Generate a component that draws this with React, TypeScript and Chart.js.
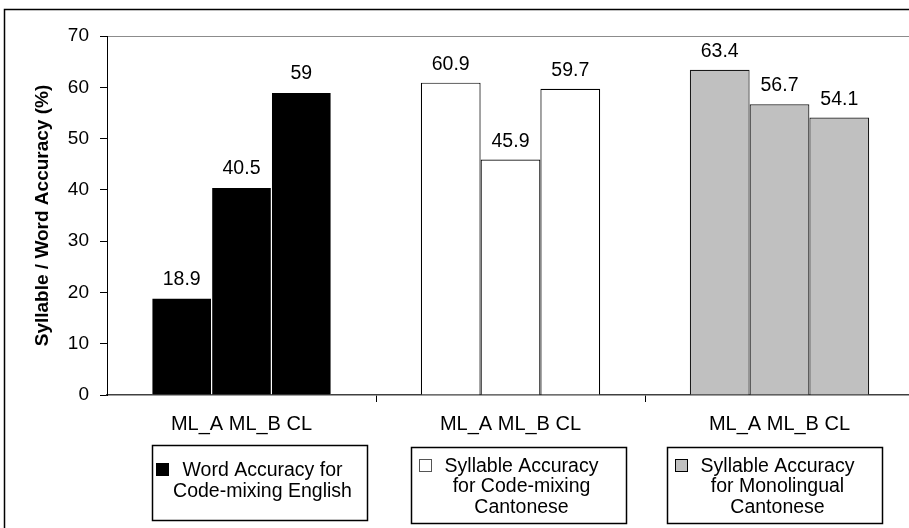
import React, { useEffect, useRef } from "react";
import { Chart, registerables } from "chart.js";

Chart.register(...registerables);

// ---- data ----
const categories = ["ML_A ML_B CL", "ML_A ML_B CL", "ML_A ML_B CL"];
const seriesNames = ["ML_A", "ML_B", "CL"];
const mlA = [18.9, 60.9, 63.4];
const mlB = [40.5, 45.9, 56.7];
const cl = [59, 59.7, 54.1];
const groupColors = ["#000000", "#ffffff", "#c0c0c0"];
const legendTexts = [
  ["Word Accuracy for", "Code-mixing English"],
  ["Syllable Accuracy", "for Code-mixing", "Cantonese"],
  ["Syllable Accuracy", "for Monolingual", "Cantonese"],
];
const yTickValues = [0, 10, 20, 30, 40, 50, 60, 70];
const yAxisTitle = "Syllable / Word Accuracy (%)";

const seriesData = [mlA, mlB, cl];

const FONT = "'Liberation Sans', Arial, Helvetica, sans-serif";
const legendBoxes = [
  { x: 152, y: 445, w: 215, h: 75, dy: -3 },
  { x: 411, y: 447, w: 215, h: 76, dy: 0 },
  { x: 667, y: 447, w: 215, h: 76, dy: 0 },
];

const valueLabelsPlugin = {
  id: "valueLabels",
  afterDatasetsDraw(chart: any) {
    const ctx = chart.ctx;
    ctx.save();
    ctx.font = `19.5px ${FONT}`;
    ctx.fillStyle = "#000";
    ctx.textAlign = "center";
    ctx.textBaseline = "alphabetic";
    chart.data.datasets.forEach((ds: any, di: number) => {
      const meta = chart.getDatasetMeta(di);
      meta.data.forEach((el: any, i: number) => {
        ctx.fillText(String(ds.data[i]), el.x, el.y - 13);
      });
    });
    ctx.restore();
  },
};

const decorPlugin = {
  id: "decor",
  afterDraw(chart: any) {
    const ctx = chart.ctx;
    ctx.save();
    // outer frame
    ctx.strokeStyle = "#000";
    ctx.lineWidth = 1.5;
    ctx.strokeRect(4.5, 9.5, 2000, 2000);
    // group legends
    ctx.font = `19.5px ${FONT}`;
    ctx.textBaseline = "alphabetic";
    ctx.textAlign = "center";
    const lh = 20.5;
    const capH = 14;
    legendTexts.forEach((lines, g) => {
      const b = legendBoxes[g];
      ctx.fillStyle = "#fff";
      ctx.fillRect(b.x, b.y, b.w, b.h);
      ctx.strokeStyle = "#000";
      ctx.lineWidth = 1.5;
      ctx.strokeRect(b.x + 0.5, b.y + 0.5, b.w, b.h);
      const cx = b.x + b.w / 2 + 3;
      const cy = b.y + b.h / 2 + b.dy;
      const firstBaseline = cy - ((lines.length - 1) * lh) / 2 + capH / 2;
      ctx.fillStyle = "#000";
      lines.forEach((t, li) => {
        ctx.fillText(t, cx, firstBaseline + li * lh);
      });
      const w0 = ctx.measureText(lines[0]).width;
      const sqX = Math.round(cx - w0 / 2 - 26) + 0.5;
      const sqY = Math.round(firstBaseline - 13) + 0.5;
      ctx.fillStyle = groupColors[g];
      ctx.fillRect(sqX, sqY, 12, 12);
      ctx.strokeStyle = g === 1 ? "#555" : "#000";
      ctx.lineWidth = 1;
      ctx.strokeRect(sqX, sqY, 12, 12);
    });
    ctx.restore();
  },
};

export default function App() {
  const ref = useRef<HTMLCanvasElement | null>(null);

  useEffect(() => {
    if (!ref.current) return;
    const chart = new Chart(ref.current, {
      type: "bar",
      data: {
        labels: categories,
        datasets: seriesNames.map((name, si) => ({
          label: name,
          data: seriesData[si],
          backgroundColor: groupColors,
          borderColor: ["#ffffff", "#000000", "#1a1a1a"],
          borderWidth: [0.6, 1.2, 1.2],
          barPercentage: 1,
          categoryPercentage: 2 / 3,
        })),
      },
      options: {
        responsive: false,
        animation: false,
        devicePixelRatio: 1,
        layout: { padding: { top: 36, right: 6, left: 0, bottom: 0 } },
        plugins: {
          legend: { display: false },
          tooltip: { enabled: false },
        },
        scales: {
          x: {
            type: "category",
            offset: true,
            grid: {
              offset: true,
              drawOnChartArea: false,
              drawTicks: true,
              tickLength: 7,
              lineWidth: 1,
              color: (c: any) =>
                c.type === "tick" && (c.index === 1 || c.index === 2) ? "#000" : "rgba(0,0,0,0)",
            },
            border: { display: true, color: "#404040", width: 1.5 },
            ticks: {
              color: "#000",
              font: { family: FONT, size: 20 },
              padding: 10,
              maxRotation: 0,
              autoSkip: false,
            },
            afterFit: (s: any) => {
              s.height = 133;
            },
          },
          y: {
            min: 0,
            max: 70,
            afterBuildTicks: (s: any) => {
              s.ticks = yTickValues.map((v) => ({ value: v }));
            },
            grid: {
              drawOnChartArea: true,
              drawTicks: true,
              tickLength: 7,
              lineWidth: 1,
              color: (c: any) => (c.tick && c.tick.value === 70 ? "#8c8c8c" : "rgba(0,0,0,0)"),
              tickColor: "#000",
            },
            border: { display: true, color: "#000", width: 1 },
            ticks: {
              color: "#000",
              font: { family: FONT, size: 19 },
              padding: 11,
            },
            title: {
              display: true,
              text: yAxisTitle,
              color: "#000",
              font: { family: FONT, size: 19, weight: "bold" },
              padding: { top: 31, bottom: 0 },
            },
            afterFit: (s: any) => {
              s.width = 107;
            },
          },
        },
      },
      plugins: [valueLabelsPlugin, decorPlugin],
    } as any);
    return () => chart.destroy();
  }, []);

  return (
    <div
      style={{
        position: "fixed",
        left: 0,
        top: 0,
        width: 909,
        height: 528,
        overflow: "hidden",
        background: "#fff",
      }}
    >
      <canvas ref={ref} width={920} height={528} style={{ display: "block" }} />
    </div>
  );
}
